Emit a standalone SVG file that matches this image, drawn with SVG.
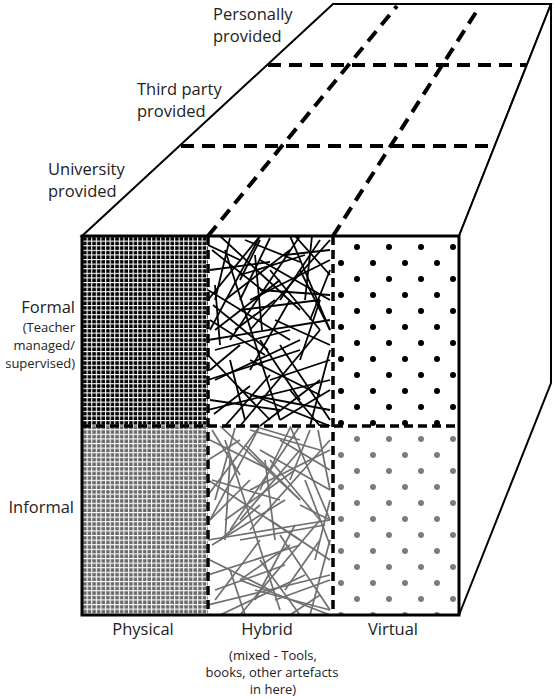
<svg xmlns="http://www.w3.org/2000/svg" width="555" height="697" viewBox="0 0 555 697">
  <defs>
    <style>
      .edge { fill: #fff; stroke: #000; stroke-width: 2; stroke-linejoin: miter; }
      .dash-top { fill: none; stroke: #000; stroke-width: 4; stroke-dasharray: 13 8; }
      .dash-front { fill: none; stroke: #000; stroke-width: 3.5; stroke-dasharray: 9 5; }
      .lbl { font-family: "Open Sans", "Liberation Sans", sans-serif; fill: #222; font-size: 16.5px; }
      .sm { font-size: 13px; }
      .mid { text-anchor: middle; }
      .end { text-anchor: end; }
      .straw-dark line { stroke: #000; stroke-width: 1.8; }
      .straw-grey line { stroke: #707070; stroke-width: 1.7; }
    </style>
    <!-- fine mesh: dark squares separated by white threads -->
    <pattern id="mesh-dark" patternUnits="userSpaceOnUse" x="82" y="236" width="4.6" height="4.6">
      <rect width="4.6" height="4.6" fill="#000"/>
      <rect width="4.6" height="1.1" fill="#fff"/>
      <rect width="1.1" height="4.6" fill="#fff"/>
    </pattern>
    <pattern id="mesh-grey" patternUnits="userSpaceOnUse" x="82" y="236" width="4.6" height="4.6">
      <rect width="4.6" height="4.6" fill="#6a6a6a"/>
      <rect width="4.6" height="1.1" fill="#fff"/>
      <rect width="1.1" height="4.6" fill="#fff"/>
    </pattern>
    <!-- staggered dots -->
    <pattern id="dots-dark" patternUnits="userSpaceOnUse" x="341" y="231" width="32" height="32">
      <circle cx="16" cy="16" r="3" fill="#000"/>
      <circle cx="0" cy="0" r="3" fill="#000"/>
      <circle cx="32" cy="0" r="3" fill="#000"/>
      <circle cx="0" cy="32" r="3" fill="#000"/>
      <circle cx="32" cy="32" r="3" fill="#000"/>
    </pattern>
    <pattern id="dots-grey" patternUnits="userSpaceOnUse" x="341" y="231" width="32" height="32">
      <circle cx="16" cy="16" r="3" fill="#7c7c7c"/>
      <circle cx="0" cy="0" r="3" fill="#7c7c7c"/>
      <circle cx="32" cy="0" r="3" fill="#7c7c7c"/>
      <circle cx="0" cy="32" r="3" fill="#7c7c7c"/>
      <circle cx="32" cy="32" r="3" fill="#7c7c7c"/>
    </pattern>
    <clipPath id="clip-hyb-formal"><rect x="208" y="236" width="125" height="190"/></clipPath>
    <clipPath id="clip-hyb-informal"><rect x="208" y="426" width="125" height="189"/></clipPath>
  </defs>

  <rect width="555" height="697" fill="#fff"/>

  <!-- top face: provider layers -->
  <g id="top-face">
    <polygon class="edge" points="82,236 333,4 551,4 459,236"/>
    <line class="dash-top" x1="268" y1="65" x2="526" y2="65"/>
    <line class="dash-top" x1="181" y1="146" x2="496" y2="146"/>
    <line class="dash-top" x1="208" y1="236" x2="397" y2="6"/>
    <line class="dash-top" x1="333" y1="236" x2="480" y2="6"/>
  </g>

  <!-- right face -->
  <g id="right-face">
    <polygon class="edge" points="459,236 551,4 551,383 459,615"/>
  </g>

  <!-- front face: six cells -->
  <g id="front-face">
    <g id="cell-physical-formal"><rect x="82" y="236" width="126" height="190" fill="url(#mesh-dark)"/></g>
    <g id="cell-physical-informal"><rect x="82" y="426" width="126" height="189" fill="url(#mesh-grey)"/></g>
    <g id="cell-virtual-formal"><rect x="333" y="236" width="126" height="190" fill="url(#dots-dark)"/></g>
    <g id="cell-virtual-informal"><rect x="333" y="426" width="126" height="189" fill="url(#dots-grey)"/></g>
    <g id="cell-hybrid-formal" class="straw-dark" clip-path="url(#clip-hyb-formal)">
      <line x1="212" y1="250" x2="262" y2="290"/>
      <line x1="230" y1="238" x2="215" y2="300"/>
      <line x1="245" y1="240" x2="300" y2="262"/>
      <line x1="270" y1="238" x2="240" y2="300"/>
      <line x1="295" y1="236" x2="330" y2="275"/>
      <line x1="320" y1="240" x2="280" y2="300"/>
      <line x1="210" y1="270" x2="270" y2="262"/>
      <line x1="225" y1="300" x2="290" y2="250"/>
      <line x1="255" y1="255" x2="262" y2="330"/>
      <line x1="300" y1="270" x2="330" y2="330"/>
      <line x1="280" y1="280" x2="215" y2="330"/>
      <line x1="210" y1="320" x2="265" y2="355"/>
      <line x1="240" y1="310" x2="320" y2="300"/>
      <line x1="290" y1="300" x2="250" y2="370"/>
      <line x1="310" y1="320" x2="330" y2="270"/>
      <line x1="215" y1="350" x2="290" y2="330"/>
      <line x1="260" y1="340" x2="300" y2="400"/>
      <line x1="300" y1="340" x2="215" y2="380"/>
      <line x1="230" y1="360" x2="245" y2="420"/>
      <line x1="270" y1="380" x2="330" y2="360"/>
      <line x1="210" y1="400" x2="280" y2="410"/>
      <line x1="290" y1="390" x2="320" y2="426"/>
      <line x1="320" y1="380" x2="260" y2="426"/>
      <line x1="225" y1="426" x2="270" y2="375"/>
      <line x1="250" y1="395" x2="330" y2="410"/>
      <line x1="305" y1="255" x2="240" y2="275"/>
      <line x1="215" y1="285" x2="220" y2="345"/>
      <line x1="275" y1="320" x2="330" y2="345"/>
      <line x1="208" y1="245" x2="240" y2="260"/>
      <line x1="320" y1="300" x2="300" y2="360"/>
      <line x1="260" y1="290" x2="330" y2="295"/>
      <line x1="235" y1="330" x2="275" y2="300"/>
      <line x1="285" y1="255" x2="330" y2="250"/>
      <line x1="210" y1="370" x2="240" y2="345"/>
      <line x1="250" y1="360" x2="320" y2="395"/>
      <line x1="280" y1="420" x2="330" y2="390"/>
      <line x1="214" y1="414" x2="250" y2="386"/>
      <line x1="312" y1="236" x2="305" y2="300"/>
      <line x1="240" y1="280" x2="260" y2="240"/>
      <line x1="268" y1="350" x2="213" y2="305"/>
      <line x1="208" y1="290" x2="290" y2="340"/>
      <line x1="220" y1="236" x2="300" y2="310"/>
      <line x1="330" y1="240" x2="250" y2="330"/>
      <line x1="208" y1="340" x2="330" y2="320"/>
      <line x1="240" y1="426" x2="320" y2="330"/>
      <line x1="208" y1="380" x2="300" y2="350"/>
      <line x1="260" y1="236" x2="210" y2="330"/>
      <line x1="330" y1="300" x2="260" y2="260"/>
      <line x1="208" y1="410" x2="330" y2="380"/>
      <line x1="290" y1="236" x2="330" y2="330"/>
      <line x1="225" y1="250" x2="280" y2="420"/>
      <line x1="310" y1="426" x2="330" y2="350"/>
      <line x1="208" y1="300" x2="260" y2="236"/>
      <line x1="240" y1="390" x2="330" y2="426"/>
      <line x1="280" y1="345" x2="330" y2="420"/>
      <line x1="208" y1="355" x2="270" y2="420"/>
      <line x1="300" y1="236" x2="230" y2="340"/>
      <line x1="250" y1="300" x2="330" y2="260"/>
      <line x1="270" y1="270" x2="320" y2="330"/>
    </g>
    <g id="cell-hybrid-informal" class="straw-grey" clip-path="url(#clip-hyb-informal)">
      <line x1="210" y1="440" x2="270" y2="470"/>
      <line x1="235" y1="428" x2="215" y2="500"/>
      <line x1="250" y1="430" x2="320" y2="450"/>
      <line x1="290" y1="428" x2="260" y2="490"/>
      <line x1="318" y1="430" x2="330" y2="490"/>
      <line x1="300" y1="450" x2="240" y2="520"/>
      <line x1="212" y1="480" x2="280" y2="500"/>
      <line x1="225" y1="520" x2="295" y2="470"/>
      <line x1="265" y1="460" x2="275" y2="540"/>
      <line x1="305" y1="480" x2="330" y2="545"/>
      <line x1="285" y1="500" x2="212" y2="545"/>
      <line x1="210" y1="560" x2="270" y2="590"/>
      <line x1="240" y1="540" x2="325" y2="525"/>
      <line x1="295" y1="525" x2="255" y2="600"/>
      <line x1="315" y1="560" x2="330" y2="500"/>
      <line x1="215" y1="590" x2="285" y2="565"/>
      <line x1="260" y1="560" x2="300" y2="615"/>
      <line x1="305" y1="575" x2="220" y2="615"/>
      <line x1="230" y1="570" x2="245" y2="615"/>
      <line x1="275" y1="600" x2="330" y2="580"/>
      <line x1="320" y1="595" x2="290" y2="615"/>
      <line x1="245" y1="445" x2="300" y2="500"/>
      <line x1="208" y1="460" x2="240" y2="440"/>
      <line x1="280" y1="440" x2="330" y2="470"/>
      <line x1="250" y1="480" x2="210" y2="520"/>
      <line x1="300" y1="505" x2="330" y2="520"/>
      <line x1="220" y1="540" x2="260" y2="505"/>
      <line x1="270" y1="520" x2="330" y2="560"/>
      <line x1="215" y1="600" x2="260" y2="540"/>
      <line x1="290" y1="545" x2="240" y2="580"/>
      <line x1="310" y1="430" x2="290" y2="480"/>
      <line x1="230" y1="460" x2="225" y2="540"/>
      <line x1="255" y1="590" x2="330" y2="610"/>
      <line x1="320" y1="540" x2="285" y2="590"/>
      <line x1="260" y1="428" x2="300" y2="440"/>
      <line x1="212" y1="430" x2="240" y2="475"/>
      <line x1="208" y1="480" x2="300" y2="540"/>
      <line x1="220" y1="426" x2="300" y2="500"/>
      <line x1="330" y1="440" x2="250" y2="530"/>
      <line x1="208" y1="540" x2="330" y2="520"/>
      <line x1="240" y1="615" x2="320" y2="520"/>
      <line x1="208" y1="575" x2="300" y2="545"/>
      <line x1="260" y1="426" x2="210" y2="520"/>
      <line x1="330" y1="490" x2="260" y2="450"/>
      <line x1="208" y1="605" x2="330" y2="575"/>
      <line x1="290" y1="426" x2="330" y2="520"/>
      <line x1="225" y1="440" x2="280" y2="610"/>
      <line x1="310" y1="615" x2="330" y2="540"/>
      <line x1="208" y1="495" x2="260" y2="426"/>
      <line x1="240" y1="580" x2="330" y2="615"/>
      <line x1="280" y1="535" x2="330" y2="610"/>
      <line x1="300" y1="426" x2="230" y2="530"/>
      <line x1="250" y1="490" x2="330" y2="450"/>
      <line x1="270" y1="460" x2="320" y2="520"/>
    </g>
    <!-- cell dividers and outline -->
    <line class="dash-front" x1="208" y1="236" x2="208" y2="615"/>
    <line class="dash-front" x1="333" y1="236" x2="333" y2="615"/>
    <line class="dash-front" x1="82" y1="426" x2="459" y2="426"/>
    <rect x="82" y="236" width="377" height="379" fill="none" stroke="#000" stroke-width="3"/>
  </g>

  <!-- provider labels -->
  <g id="labels-top" class="lbl">
    <text x="213" y="20">Personally</text>
    <text x="213" y="42">provided</text>
    <text x="137" y="95">Third party</text>
    <text x="137" y="117">provided</text>
    <text x="48" y="175">University</text>
    <text x="48" y="197">provided</text>
  </g>

  <!-- formality labels -->
  <g id="labels-left" class="lbl end">
    <text x="75" y="313">Formal</text>
    <text class="sm" x="75" y="332">(Teacher</text>
    <text class="sm" x="75" y="350">managed/</text>
    <text class="sm" x="75" y="368">supervised)</text>
    <text x="74" y="513">Informal</text>
  </g>

  <!-- setting labels -->
  <g id="labels-bottom" class="lbl mid">
    <text x="143" y="635">Physical</text>
    <text x="267" y="635">Hybrid</text>
    <text x="393" y="635">Virtual</text>
    <text class="sm" x="273" y="660">(mixed - Tools,</text>
    <text class="sm" x="272" y="677">books, other artefacts</text>
    <text class="sm" x="273" y="694">in here)</text>
  </g>
</svg>
